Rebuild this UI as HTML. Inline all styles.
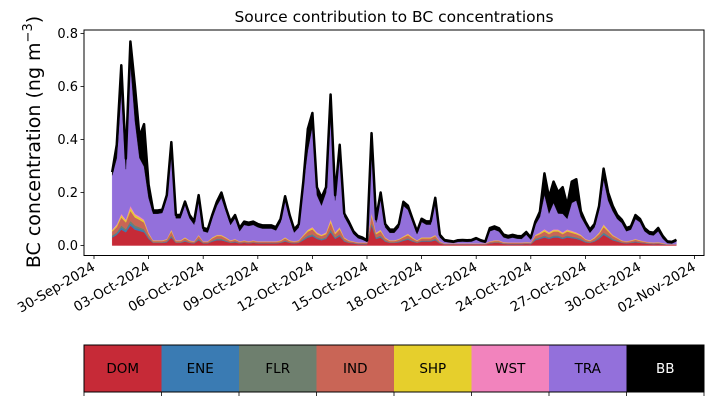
<!DOCTYPE html>
<html><head><meta charset="utf-8"><style>
body{margin:0;background:#fff}
svg text{font-family:"DejaVu Sans","Liberation Sans",sans-serif}
</style></head><body>
<svg id="chart" width="714" height="402" viewBox="0 0 714 402" xmlns="http://www.w3.org/2000/svg">
<rect width="714" height="402" fill="#fff"/>
<text x="394" y="22" font-size="15.5" text-anchor="middle">Source contribution to BC concentrations</text>
<text transform="translate(40,142) rotate(-90)" font-size="19" text-anchor="middle">BC concentration (ng m<tspan dy="-8" font-size="13">−3</tspan><tspan dy="8">)</tspan></text>
<g id="areas"></g>
<g id="axes"></g>
<g id="cbar"></g>
</svg>
<script>
const startDate = new Date(2024, 9, 1);
const stepHours = 6;
const seriesNames = ["DOM","ENE","FLR","IND","SHP","WST","TRA","BB"];
const seriesColors = ["#c62a37","#3a7bb3","#6e7f6e","#c96556","#e6cf2c","#f283bd","#9370db","#000000"];
const DOM = [.03,.04,.06,.05,.075,.06,.055,.05,.025,.01,.01,.01,.012,.03,.01,.01,.015,.01,.008,.02,.008,.008,.015,.02,.02,.015,.01,.012,.008,.01,.008,.01,.008,.008,.008,.008,.008,.01,.015,.01,.008,.01,.02,.03,.035,.025,.02,.025,.05,.025,.035,.015,.01,.008,.005,.005,.005,.075,.025,.03,.015,.01,.01,.012,.018,.022,.015,.01,.015,.015,.015,.02,.008,.004,.004,.004,.004,.004,.004,.004,.004,.004,.004,.008,.01,.01,.006,.005,.005,.005,.005,.006,.005,.02,.025,.03,.025,.03,.03,.025,.03,.028,.025,.02,.012,.01,.015,.025,.04,.03,.02,.015,.01,.008,.01,.012,.01,.008,.006,.005,.006,.004,.003,.003,.003];
const IND = [.015,.02,.03,.025,.038,.03,.028,.025,.012,.005,.005,.005,.006,.015,.005,.005,.008,.005,.004,.01,.004,.004,.008,.01,.01,.008,.005,.006,.004,.005,.004,.005,.004,.004,.004,.004,.004,.005,.008,.005,.004,.005,.01,.015,.018,.012,.01,.012,.025,.012,.018,.008,.005,.004,.003,.003,.003,.025,.012,.015,.008,.005,.005,.006,.009,.011,.008,.005,.008,.008,.008,.01,.004,.002,.002,.002,.002,.002,.002,.002,.002,.002,.002,.004,.005,.005,.003,.003,.003,.003,.003,.003,.003,.01,.012,.015,.012,.015,.015,.012,.015,.014,.012,.01,.006,.005,.008,.012,.02,.015,.01,.008,.005,.004,.005,.006,.005,.004,.003,.003,.003,.002,.001,.001,.001];
const ENE = [.004,.005,.008,.006,.009,.008,.007,.006,.003,.001,.001,.001,.002,.004,.001,.001,.002,.001,.001,.003,.001,.001,.002,.003,.003,.002,.001,.002,.001,.001,.001,.001,.001,.001,.001,.001,.001,.001,.002,.001,.001,.001,.003,.004,.004,.003,.003,.003,.006,.003,.004,.002,.001,.001,.001,.001,.001,.006,.003,.004,.002,.001,.001,.002,.002,.003,.002,.001,.002,.002,.002,.003,.001,.0005,.0005,.0005,.0005,.0005,.0005,.0005,.0005,.0005,.0005,.001,.001,.001,.001,.001,.001,.001,.001,.001,.001,.003,.003,.004,.003,.004,.004,.003,.004,.003,.003,.003,.002,.001,.002,.003,.005,.004,.003,.002,.001,.001,.001,.002,.001,.001,.001,.001,.001,.001,.0003,.0003,.0003];
const FLR = [.004,.005,.008,.006,.009,.008,.007,.006,.003,.001,.001,.001,.002,.004,.001,.001,.002,.001,.001,.003,.001,.001,.002,.003,.003,.002,.001,.002,.001,.001,.001,.001,.001,.001,.001,.001,.001,.001,.002,.001,.001,.001,.003,.004,.004,.003,.003,.003,.006,.003,.004,.002,.001,.001,.001,.001,.001,.006,.003,.004,.002,.001,.001,.002,.002,.003,.002,.001,.002,.002,.002,.003,.001,.0005,.0005,.0005,.0005,.0005,.0005,.0005,.0005,.0005,.0005,.001,.001,.001,.001,.001,.001,.001,.001,.001,.001,.003,.003,.004,.003,.004,.004,.003,.004,.003,.003,.003,.002,.001,.002,.003,.005,.004,.003,.002,.001,.001,.001,.002,.001,.001,.001,.001,.001,.001,.0003,.0003,.0003];
const SHP = [.005,.006,.009,.007,.011,.009,.008,.007,.004,.002,.002,.002,.002,.005,.002,.002,.003,.002,.001,.003,.001,.001,.003,.003,.003,.003,.002,.002,.001,.002,.001,.002,.001,.001,.001,.001,.001,.002,.003,.002,.001,.002,.003,.005,.006,.004,.003,.004,.008,.004,.006,.003,.002,.001,.001,.001,.001,.008,.004,.005,.003,.002,.002,.002,.003,.004,.003,.002,.003,.003,.003,.003,.001,.0005,.0005,.0005,.0005,.0005,.0005,.0005,.0005,.0005,.0005,.001,.002,.002,.001,.001,.001,.001,.001,.001,.001,.003,.004,.006,.005,.005,.005,.004,.005,.005,.004,.003,.002,.002,.003,.004,.007,.005,.003,.002,.002,.001,.002,.002,.002,.001,.001,.001,.001,.001,.0005,.0005,.0005];
const WST = [.002,.004,.005,.004,.008,.005,.005,.004,.003,.001,.001,.001,.001,.002,.001,.001,.001,.001,.001,.001,.001,.001,.001,.001,.001,.001,.001,.001,.001,.001,.001,.001,.001,.001,.001,.001,.001,.001,.001,.001,.001,.001,.001,.002,.003,.003,.002,.003,.005,.003,.003,.001,.001,.001,.001,.001,.001,.004,.002,.002,.001,.001,.001,.001,.001,.002,.001,.001,.001,.001,.001,.001,.001,.0005,.0005,.0005,.0005,.0005,.0005,.0005,.0005,.0005,.0005,.001,.001,.001,.001,.001,.001,.001,.001,.001,.001,.001,.003,.003,.003,.003,.003,.003,.003,.003,.003,.002,.001,.001,.001,.002,.003,.002,.001,.001,.001,.001,.001,.001,.001,.001,.001,.001,.001,.001,.0005,.0005,.0005];
const TRA = [.205,.25,.46,.19,.54,.35,.22,.20,.13,.10,.10,.103,.153,.30,.083,.083,.123,.083,.063,.135,.038,.033,.073,.11,.14,.098,.058,.078,.038,.058,.058,.058,.053,.048,.048,.048,.041,.068,.14,.083,.033,.048,.188,.30,.38,.14,.11,.15,.39,.12,.28,.078,.058,.028,.016,.01,.002,.27,.038,.125,.038,.028,.028,.043,.115,.09,.058,.023,.058,.048,.048,.125,.015,.007,.004,.002,.006,.007,.006,.007,.014,.006,.002,.038,.04,.033,.018,.014,.018,.014,.013,.028,.01,.038,.058,.13,.07,.10,.06,.07,.04,.105,.12,.068,.053,.028,.038,.085,.17,.11,.09,.07,.065,.038,.04,.075,.068,.038,.028,.026,.041,.016,.004,.002,.01];
const BB = [.012,.05,.10,.04,.08,.13,.08,.16,.05,.012,.012,.012,.012,.03,.012,.012,.012,.012,.012,.015,.012,.012,.012,.015,.02,.012,.012,.012,.012,.012,.012,.012,.012,.012,.012,.012,.012,.012,.015,.012,.012,.012,.012,.08,.05,.03,.03,.02,.08,.02,.03,.012,.012,.01,.008,.008,.005,.03,.012,.015,.012,.012,.012,.012,.015,.015,.012,.01,.012,.012,.012,.015,.01,.006,.006,.005,.006,.006,.006,.006,.006,.006,.005,.012,.012,.012,.01,.01,.01,.01,.01,.01,.008,.012,.02,.08,.06,.08,.08,.1,.05,.08,.08,.02,.012,.012,.012,.015,.04,.03,.02,.015,.012,.012,.012,.015,.012,.012,.01,.01,.012,.01,.006,.006,.006];
const yTicks = [0, 0.2, 0.4, 0.6, 0.8];
const xTickLabels = ["30-Sep-2024","03-Oct-2024","06-Oct-2024","09-Oct-2024","12-Oct-2024","15-Oct-2024","18-Oct-2024","21-Oct-2024","24-Oct-2024","27-Oct-2024","30-Oct-2024","02-Nov-2024"];

const NS = "http://www.w3.org/2000/svg";
const PL = 84, PR = 704, PT = 30, PB = 255.5;
const axisOrigin = new Date(2024, 8, 30);
const pxPerDay = 18.2, x0 = 94;
function xScale(d){ return x0 + ((d - axisOrigin)/86400000) * pxPerDay; }
function yScale(v){ return 245.5 - v * 265; }
function mk(tag, attrs){ const e = document.createElementNS(NS, tag); for (const k in attrs) e.setAttribute(k, attrs[k]); return e; }

const series = [DOM, ENE, FLR, IND, SHP, WST, TRA, BB];
const n = Math.min(...series.map(s => s.length));
const times = [];
for (let i = 0; i < n; i++) times.push(new Date(startDate.getTime() + i*stepHours*3600000));

const areas = document.getElementById('areas');
let lower = new Array(n).fill(0);
series.forEach((s, si) => {
  const upper = lower.map((v, i) => v + s[i]);
  let d = "";
  for (let i = 0; i < n; i++) d += (i ? "L" : "M") + xScale(times[i]).toFixed(2) + "," + yScale(upper[i]).toFixed(2);
  for (let i = n - 1; i >= 0; i--) d += "L" + xScale(times[i]).toFixed(2) + "," + yScale(lower[i]).toFixed(2);
  d += "Z";
  const p = mk('path', {d: d, fill: seriesColors[si], stroke: seriesColors[si], 'stroke-width': 0.4});
  
  
  areas.appendChild(p);
  lower = upper;
});
let td = "";
for (let i = 0; i < n; i++) td += (i ? "L" : "M") + xScale(times[i]).toFixed(2) + "," + yScale(lower[i]).toFixed(2);
const totalLine = mk('path', {d: td, fill: 'none', stroke: '#000', 'stroke-width': 2.5, 'stroke-linejoin': 'round'});


areas.appendChild(totalLine);

const axes = document.getElementById('axes');
const frame = mk('rect', {x: PL, y: PT, width: PR - PL, height: PB - PT, fill: 'none', stroke: '#000', 'stroke-width': 1});


axes.appendChild(frame);
yTicks.forEach(v => {
  const y = yScale(v);
  axes.appendChild(mk('line', {x1: PL - 3.5, x2: PL, y1: y, y2: y, stroke: '#000', 'stroke-width': 0.8}));
  const t = mk('text', {x: PL - 6, y: y + 4.5, 'font-size': 13, 'text-anchor': 'end'});
  
  
  t.textContent = v.toFixed(1);
  axes.appendChild(t);
});
xTickLabels.forEach((lab, i) => {
  const d = new Date(axisOrigin.getTime() + i*3*86400000);
  const x = xScale(d);
  axes.appendChild(mk('line', {x1: x, x2: x, y1: PB, y2: PB + 3.5, stroke: '#000', 'stroke-width': 0.8}));
  const t = mk('text', {x: 0, y: 0, 'font-size': 13.5, 'text-anchor': 'end', transform: 'translate(' + (x + 2) + ',' + (PB + 14) + ') rotate(-30)'});
  
  
  t.textContent = lab;
  axes.appendChild(t);
});

const cbar = document.getElementById('cbar');
const cbL = 84, cbR = 704, cbT = 345, cbB = 392;
const w = (cbR - cbL) / seriesNames.length;
seriesNames.forEach((nm, i) => {
  const r = mk('rect', {x: cbL + i*w, y: cbT, width: w + 0.3, height: cbB - cbT, fill: seriesColors[i]});
  
  
  cbar.appendChild(r);
  const t = mk('text', {x: cbL + i*w + w/2, y: cbT + 28, 'font-size': 13.5, 'text-anchor': 'middle', fill: nm === 'BB' ? '#fff' : '#000'});
  
  
  t.textContent = nm;
  cbar.appendChild(t);
});
for (let i = 0; i <= seriesNames.length; i++) {
  const x = cbL + i*w;
  cbar.appendChild(mk('line', {x1: x, x2: x, y1: cbB, y2: cbB + 4, stroke: '#000', 'stroke-width': 0.8}));
}
const cbf = mk('rect', {x: cbL, y: cbT, width: cbR - cbL, height: cbB - cbT, fill: 'none', stroke: '#000', 'stroke-width': 1});


cbar.appendChild(cbf);
</script>
</body></html>
